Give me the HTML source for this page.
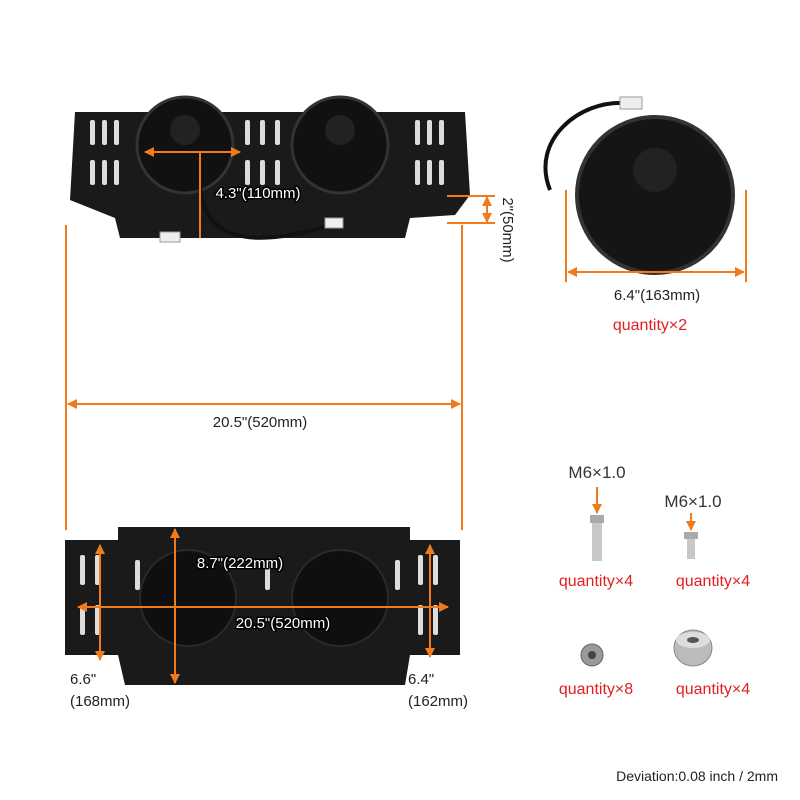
<!DOCTYPE html>
<html><head><meta charset="utf-8"><style>
body{margin:0;background:#fff;}
svg{display:block;font-family:"Liberation Sans",sans-serif;}
.o{fill:#fff;stroke:#000;stroke-width:3;paint-order:stroke;stroke-linejoin:round;}
</style></head><body>
<svg width="800" height="800" viewBox="0 0 800 800" xmlns="http://www.w3.org/2000/svg">
<defs>
<marker id="a" viewBox="0 0 10 10" refX="9" refY="5" markerWidth="5" markerHeight="5" orient="auto-start-reverse"><path d="M0,0L10,5L0,10z" fill="#f07b1c"/></marker>
</defs>
<rect width="800" height="800" fill="#fff"/>
<polygon points="75,112 465,112 470,195 455,215 410,218 405,238 120,238 115,218 70,200" fill="#1a1a1a"/>
<g fill="#fff" opacity="0.85">
<rect x="90" y="120" width="5" height="25" rx="2"/><rect x="102" y="120" width="5" height="25" rx="2"/><rect x="114" y="120" width="5" height="25" rx="2"/>
<rect x="90" y="160" width="5" height="25" rx="2"/><rect x="102" y="160" width="5" height="25" rx="2"/><rect x="114" y="160" width="5" height="25" rx="2"/>
<rect x="415" y="120" width="5" height="25" rx="2"/><rect x="427" y="120" width="5" height="25" rx="2"/><rect x="439" y="120" width="5" height="25" rx="2"/>
<rect x="415" y="160" width="5" height="25" rx="2"/><rect x="427" y="160" width="5" height="25" rx="2"/><rect x="439" y="160" width="5" height="25" rx="2"/>
<rect x="245" y="120" width="5" height="25" rx="2"/><rect x="260" y="120" width="5" height="25" rx="2"/><rect x="275" y="120" width="5" height="25" rx="2"/>
<rect x="245" y="160" width="5" height="25" rx="2"/><rect x="260" y="160" width="5" height="25" rx="2"/><rect x="275" y="160" width="5" height="25" rx="2"/>
</g>
<circle cx="185" cy="145" r="48" fill="#111" stroke="#333" stroke-width="3"/>
<circle cx="340" cy="145" r="48" fill="#111" stroke="#333" stroke-width="3"/>
<circle cx="185" cy="130" r="15" fill="#222"/><circle cx="340" cy="130" r="15" fill="#222"/>
<path d="M200,180 C200,240 250,250 330,225" stroke="#111" stroke-width="4" fill="none"/>
<rect x="160" y="232" width="20" height="10" fill="#eee" stroke="#999"/>
<rect x="325" y="218" width="18" height="10" fill="#eee" stroke="#999"/>
<line x1="145" y1="152" x2="240" y2="152" stroke="#f07b1c" stroke-width="2" marker-start="url(#a)" marker-end="url(#a)"/>
<line x1="200" y1="152" x2="200" y2="238" stroke="#f07b1c" stroke-width="2"/>
<text x="258" y="198" font-size="15" class="o" text-anchor="middle">4.3"(110mm)</text>
<line x1="447" y1="196" x2="495" y2="196" stroke="#f07b1c" stroke-width="2"/>
<line x1="447" y1="223" x2="495" y2="223" stroke="#f07b1c" stroke-width="2"/>
<line x1="487" y1="197" x2="487" y2="222" stroke="#f07b1c" stroke-width="2" marker-start="url(#a)" marker-end="url(#a)"/>
<text transform="translate(503,230) rotate(90)" font-size="15" fill="#222" text-anchor="middle">2"(50mm)</text>
<line x1="66" y1="225" x2="66" y2="530" stroke="#f07b1c" stroke-width="2"/>
<line x1="462" y1="225" x2="462" y2="530" stroke="#f07b1c" stroke-width="2"/>
<line x1="68" y1="404" x2="460" y2="404" stroke="#f07b1c" stroke-width="2" marker-start="url(#a)" marker-end="url(#a)"/>
<text x="260" y="427" font-size="15" fill="#222" text-anchor="middle">20.5"(520mm)</text>
<path d="M625,103 C580,100 530,140 550,190" stroke="#111" stroke-width="4" fill="none"/>
<rect x="620" y="97" width="22" height="12" fill="#eee" stroke="#999"/>
<circle cx="655" cy="195" r="78" fill="#151515" stroke="#333" stroke-width="4"/>
<circle cx="655" cy="170" r="22" fill="#222"/>
<line x1="566" y1="190" x2="566" y2="282" stroke="#f07b1c" stroke-width="2"/>
<line x1="746" y1="190" x2="746" y2="282" stroke="#f07b1c" stroke-width="2"/>
<line x1="568" y1="272" x2="744" y2="272" stroke="#f07b1c" stroke-width="2" marker-start="url(#a)" marker-end="url(#a)"/>
<text x="657" y="300" font-size="15" fill="#222" text-anchor="middle">6.4"(163mm)</text>
<text x="650" y="330" font-size="16" fill="#e02020" text-anchor="middle">quantity×2</text>
<polygon points="65,540 118,540 118,527 410,527 410,540 460,540 460,655 410,655 405,685 125,685 118,655 65,655" fill="#1a1a1a"/>
<g fill="#fff" opacity="0.85">
<rect x="80" y="555" width="5" height="30" rx="2"/><rect x="95" y="555" width="5" height="30" rx="2"/>
<rect x="80" y="605" width="5" height="30" rx="2"/><rect x="95" y="605" width="5" height="30" rx="2"/>
<rect x="418" y="555" width="5" height="30" rx="2"/><rect x="433" y="555" width="5" height="30" rx="2"/>
<rect x="418" y="605" width="5" height="30" rx="2"/><rect x="433" y="605" width="5" height="30" rx="2"/>
<rect x="135" y="560" width="5" height="30" rx="2"/><rect x="265" y="560" width="5" height="30" rx="2"/><rect x="395" y="560" width="5" height="30" rx="2"/>
</g>
<circle cx="188" cy="598" r="48" fill="#0f0f0f" stroke="#2a2a2a" stroke-width="2"/>
<circle cx="340" cy="598" r="48" fill="#0f0f0f" stroke="#2a2a2a" stroke-width="2"/>
<line x1="175" y1="529" x2="175" y2="683" stroke="#f07b1c" stroke-width="2" marker-start="url(#a)" marker-end="url(#a)"/>
<text x="240" y="568" font-size="15" class="o" text-anchor="middle">8.7"(222mm)</text>
<line x1="78" y1="607" x2="448" y2="607" stroke="#f07b1c" stroke-width="2" marker-start="url(#a)" marker-end="url(#a)"/>
<text x="283" y="628" font-size="15" class="o" text-anchor="middle">20.5"(520mm)</text>
<line x1="100" y1="545" x2="100" y2="660" stroke="#f07b1c" stroke-width="2" marker-start="url(#a)" marker-end="url(#a)"/>
<line x1="430" y1="545" x2="430" y2="657" stroke="#f07b1c" stroke-width="2" marker-start="url(#a)" marker-end="url(#a)"/>
<text x="70" y="684" font-size="15" fill="#222">6.6"</text>
<text x="70" y="706" font-size="15" fill="#222">(168mm)</text>
<text x="408" y="684" font-size="15" fill="#222">6.4"</text>
<text x="408" y="706" font-size="15" fill="#222">(162mm)</text>
<text x="597" y="478" font-size="17" fill="#333" text-anchor="middle">M6×1.0</text>
<line x1="597" y1="487" x2="597" y2="513" stroke="#f07b1c" stroke-width="2" marker-end="url(#a)"/>
<rect x="590" y="515" width="14" height="8" fill="#aaa"/><rect x="592" y="523" width="10" height="38" fill="#c8c8c8"/>
<text x="693" y="507" font-size="17" fill="#333" text-anchor="middle">M6×1.0</text>
<line x1="691" y1="513" x2="691" y2="530" stroke="#f07b1c" stroke-width="2" marker-end="url(#a)"/>
<rect x="684" y="532" width="14" height="7" fill="#aaa"/><rect x="687" y="539" width="8" height="20" fill="#c8c8c8"/>
<text x="596" y="586" font-size="16" fill="#e02020" text-anchor="middle">quantity×4</text>
<text x="713" y="586" font-size="16" fill="#e02020" text-anchor="middle">quantity×4</text>
<circle cx="592" cy="655" r="11" fill="#999" stroke="#666"/><circle cx="592" cy="655" r="4" fill="#444"/>
<ellipse cx="693" cy="648" rx="19" ry="18" fill="#bbb" stroke="#888"/><ellipse cx="693" cy="640" rx="17" ry="8" fill="#ddd"/><ellipse cx="693" cy="640" rx="6" ry="3" fill="#555"/>
<text x="596" y="694" font-size="16" fill="#e02020" text-anchor="middle">quantity×8</text>
<text x="713" y="694" font-size="16" fill="#e02020" text-anchor="middle">quantity×4</text>
<text x="778" y="781" font-size="14" fill="#222" text-anchor="end">Deviation:0.08 inch / 2mm</text>
</svg>
</body></html>
